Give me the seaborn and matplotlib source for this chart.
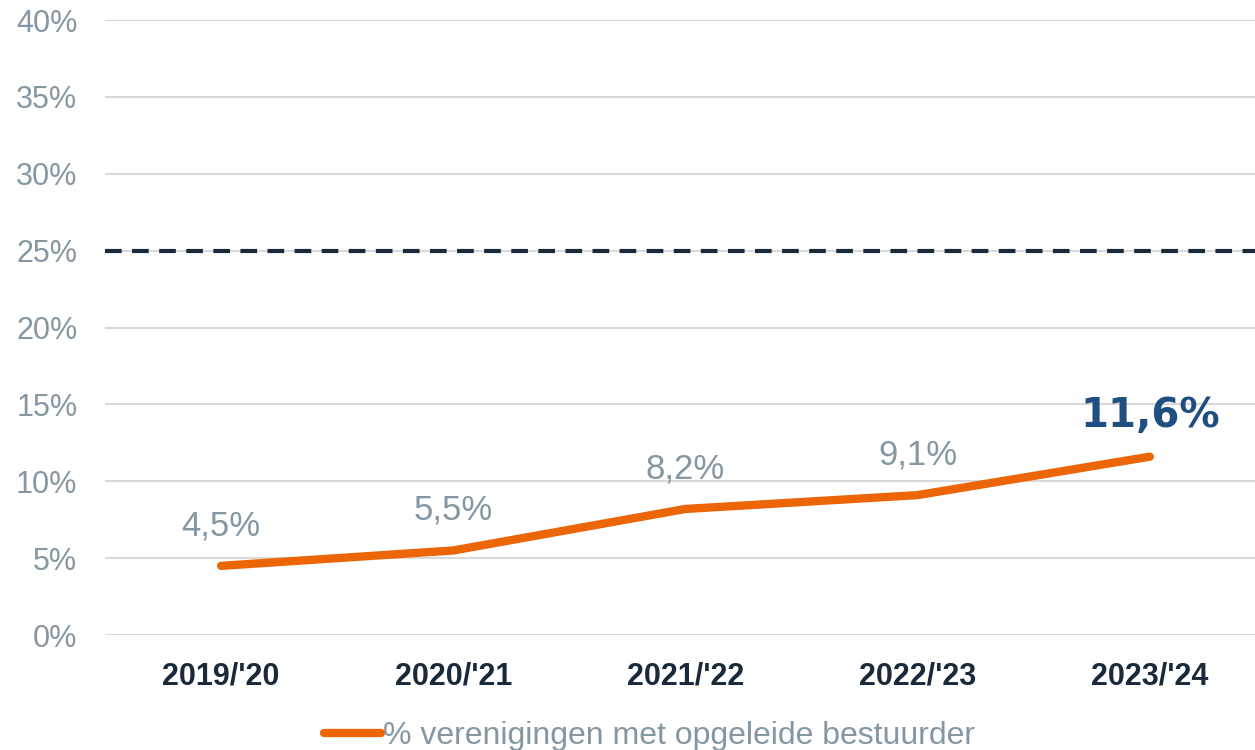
import pandas as pd
import seaborn as sns
import matplotlib.pyplot as plt

seasons = ["2019/'20", "2020/'21", "2021/'22", "2022/'23", "2023/'24"]
pct_trained = [4.5, 5.5, 8.2, 9.1, 11.6]
target = 25
series_name = "% verenigingen met opgeleide bestuurder"

ORANGE = "#EC6608"
GREY = "#8497A3"
NAVY = "#1B2A3A"
BLUE = "#1F4E80"

sns.set_theme(style="white")
plt.rcParams['font.family'] = ['Liberation Sans', 'DejaVu Sans']

df = pd.DataFrame({"season": seasons, "pct": pct_trained})
df["x"] = range(len(seasons))

fig = plt.figure(figsize=(12.55, 7.5), dpi=100)
ax = fig.add_axes([0.0837, 0.1533, 0.925, 0.82])

# grid lines
for y in range(0, 45, 5):
    ax.axhline(y, color="#D9D9D9", lw=1.5, zorder=0)

# target line
ax.axhline(target, color=NAVY, lw=3, ls=(0, (4, 2.5)), zorder=1)

sns.lineplot(data=df, x="x", y="pct", ax=ax, color=ORANGE, lw=6,
             solid_capstyle="round", label=series_name, zorder=3)

# data labels
for i, v in enumerate(pct_trained):
    txt = f"{v:.1f}%".replace(".", ",")
    if i == len(pct_trained) - 1:
        ax.annotate(txt, (i, v), xytext=(0, 29), textcoords="offset points",
                    ha="center", va="center", fontsize=29, fontweight="bold",
                    color=BLUE, family=["DejaVu Sans"])
    else:
        ax.annotate(txt, (i, v), xytext=(0, 29), textcoords="offset points",
                    ha="center", va="center", fontsize=25, color=GREY)

ax.set_xlim(-0.5, len(seasons) - 0.5)
ax.set_ylim(0, 40)
ax.set_xticks(df["x"])
ax.set_xticklabels(seasons, fontsize=22, fontweight="bold", color=NAVY)
ax.set_yticks(range(0, 45, 5))
ax.set_yticklabels([f"{y}%" for y in range(0, 45, 5)], fontsize=22, color=GREY)
ax.tick_params(axis="x", length=0, pad=19)
ax.tick_params(axis="y", length=0, pad=20)
ax.set_xlabel("")
ax.set_ylabel("")
sns.despine(ax=ax, left=True, bottom=True, top=True, right=True)

leg = ax.legend(loc="center", bbox_to_anchor=(0.469, -0.164), frameon=False,
                fontsize=23, handlelength=1.8, handletextpad=0.05)
for t in leg.get_texts():
    t.set_color(GREY)

fig.savefig("out.png", dpi=100)
